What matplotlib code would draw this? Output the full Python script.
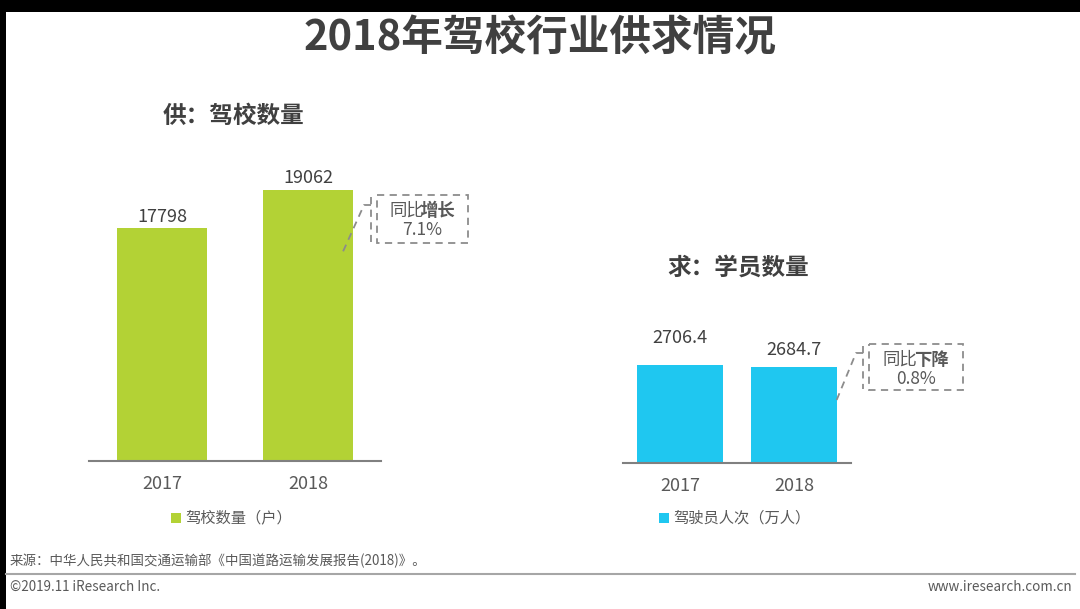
import matplotlib
matplotlib.use("Agg")
import matplotlib.pyplot as plt
from matplotlib.patches import Rectangle

plt.rcParams['font.family'] = ['Noto Sans CJK SC', 'DejaVu Sans']

# ---------------- data ----------------
title = "2018年驾校行业供求情况"
years = ["2017", "2018"]
supply_title = "供：驾校数量"
supply_values = [17798, 19062]
supply_legend = "驾校数量（户）"
supply_change_label = ["同比", "增长"]
supply_change = "7.1%"

demand_title = "求：学员数量"
demand_values = [2706.4, 2684.7]
demand_legend = "驾驶员人次（万人）"
demand_change_label = ["同比", "下降"]
demand_change = "0.8%"

source_text = "来源：中华人民共和国交通运输部《中国道路运输发展报告(2018)》。"
copyright_text = "©2019.11 iResearch Inc."
site_text = "www.iresearch.com.cn"

# ---------------- style ----------------
W, H = 1080, 609
GREEN = "#B3D235"
BLUE = "#1FC7F0"
DARK = "#404040"
GREY = "#595959"
AXIS = "#808080"

fig = plt.figure(figsize=(W / 100, H / 100), dpi=100)
fig.patch.set_facecolor("white")


def px_axes(x0, y0, x1, y1, **kw):
    """axes from pixel box (top-left origin)"""
    return fig.add_axes([x0 / W, 1 - y1 / H, (x1 - x0) / W, (y1 - y0) / H], **kw)


# overlay axes in pixel coordinates for decoration
ov = px_axes(0, 0, W, H, zorder=5)
ov.set_xlim(0, W)
ov.set_ylim(H, 0)
ov.axis("off")
ov.patch.set_alpha(0)

# black frame strips
ov.add_patch(Rectangle((0, 0), W, 12, color="black", lw=0))
ov.add_patch(Rectangle((0, 0), 6, H, color="black", lw=0))


def bar_chart(box, values, color, ylim, width, label_offsets):
    ax = px_axes(*box)
    x = list(range(len(values)))
    bars = ax.bar(x, values, width=width, color=color, zorder=2)
    ax.set_xlim(-0.5, len(values) - 0.5)
    ax.set_ylim(*ylim)
    for s in ["top", "right", "left"]:
        ax.spines[s].set_visible(False)
    ax.spines["bottom"].set_color(AXIS)
    ax.spines["bottom"].set_linewidth(1.5)
    ax.set_yticks([])
    ax.set_xticks(x)
    ax.set_xticklabels(years, fontsize=13, color=GREY)
    ax.tick_params(axis="x", length=0, pad=10)
    ax.patch.set_alpha(0)
    for b, v, off in zip(bars, values, label_offsets):
        txt = f"{v:g}" if isinstance(v, int) else f"{v:.1f}"
        ax.annotate(txt, (b.get_x() + b.get_width() / 2, v),
                    xytext=(0, off), textcoords="offset points",
                    ha="center", va="center", fontsize=13, color=DARK)
    return ax


# left: supply
bar_chart((89, 150, 381, 461), supply_values, GREEN, (10000, 20401), 0.623, [8, 9])
# right: demand
bar_chart((623, 300, 851, 463), demand_values, BLUE, (1650, 3406), 0.755, [19.5, 12.5])

# title & subtitles
ov.text(540, 38, title, ha="center", va="center", fontsize=30, fontweight="bold", color=DARK)
ov.text(163, 116, supply_title, ha="left", va="center", fontsize=17, fontweight="bold", color=DARK)
ov.text(667, 268, demand_title, ha="left", va="center", fontsize=17, fontweight="bold", color=DARK)

# legends
ov.add_patch(Rectangle((171, 513), 10, 10, color=GREEN, lw=0))
ov.text(185, 518, supply_legend, ha="left", va="center", fontsize=11, color=GREY)
ov.add_patch(Rectangle((659, 513), 10, 10, color=BLUE, lw=0))
ov.text(673, 518, demand_legend, ha="left", va="center", fontsize=11, color=GREY)


def callout(box, bar_x, lead_pts, label, value):
    x0, y0, x1, y1 = box
    dash = dict(color="#8C8C8C", lw=1.3, ls=(0, (4, 3)))
    ov.add_patch(Rectangle((x0, y0), x1 - x0, y1 - y0, fill=False, **dash))
    ov.plot([bar_x, bar_x], [y0 + 2, y1 - 1], **dash)
    xs, ys = zip(*lead_pts)
    ov.plot(xs, ys, **dash)
    cx = (x0 + x1) / 2
    ov.text(cx + 1.5, y0 + 16, label[0], ha="right", va="center", fontsize=12.5, color=GREY)
    ov.text(cx - 1.5, y0 + 16, label[1], ha="left", va="center", fontsize=12.5, color=GREY,
            fontweight="bold")
    ov.text(cx, y0 + 35, value, ha="center", va="center", fontsize=12.5, color=GREY)


callout((377, 195, 468, 243), 371, [(371, 205), (364, 205), (341, 256)],
        supply_change_label, supply_change)
callout((869, 344, 963, 390), 863, [(863, 353), (856, 353), (835, 404)],
        demand_change_label, demand_change)

# footer
ov.text(10, 561, source_text, ha="left", va="center", fontsize=9.7, color=GREY)
ov.plot([6, 1075], [574, 574], color="#A6A6A6", lw=1.5)
ov.text(10, 587, copyright_text, ha="left", va="center", fontsize=9.7, color=GREY)
ov.text(1072, 587, site_text, ha="right", va="center", fontsize=9.7, color=GREY)

fig.savefig("out.png", dpi=100, facecolor="white")
